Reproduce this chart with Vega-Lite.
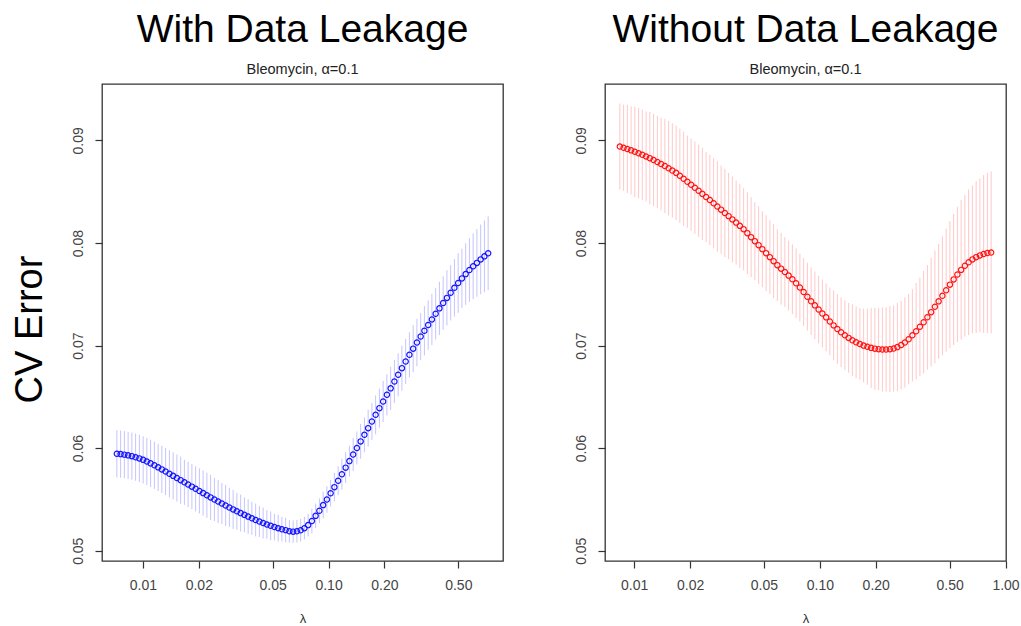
{
 "$schema": "https://vega.github.io/schema/vega-lite/v6.json",
 "background": "white",
 "padding": {"left": 10, "top": 9, "right": 0, "bottom": 0},
 "bounds": "flush",
 "spacing": 102,
 "config": {
  "font": "Liberation Sans",
  "view": {"stroke": "#333333", "strokeWidth": 1.3},
  "axis": {"grid": false, "domain": false, "tickColor": "#333333", "tickSize": 7, "tickWidth": 1.2, "labelFont": "Liberation Sans", "labelFontSize": 14, "labelColor": "#444444", "titleFont": "Liberation Sans", "titleFontWeight": "normal", "titleColor": "#000000"},
  "title": {"font": "Liberation Sans", "fontSize": 39, "fontWeight": "normal", "color": "#000000", "subtitleFont": "Liberation Sans", "subtitleFontSize": 14.5, "subtitleColor": "#222222", "anchor": "middle", "offset": 8, "subtitlePadding": 13}
 },
 "data": {"values": [
{"p":"L","lambda":0.00724,"cvm":0.05945,"se":0.0023},
{"p":"L","lambda":0.007585,"cvm":0.05942,"se":0.0023},
{"p":"L","lambda":0.007946,"cvm":0.05937,"se":0.0023},
{"p":"L","lambda":0.008324,"cvm":0.0593,"se":0.0023},
{"p":"L","lambda":0.008721,"cvm":0.05922,"se":0.0023},
{"p":"L","lambda":0.009136,"cvm":0.05912,"se":0.0023},
{"p":"L","lambda":0.009571,"cvm":0.059,"se":0.0023},
{"p":"L","lambda":0.01003,"cvm":0.05886,"se":0.0023},
{"p":"L","lambda":0.0105,"cvm":0.0587,"se":0.0023},
{"p":"L","lambda":0.011,"cvm":0.05852,"se":0.0023},
{"p":"L","lambda":0.01153,"cvm":0.05833,"se":0.0023},
{"p":"L","lambda":0.01208,"cvm":0.05813,"se":0.0023},
{"p":"L","lambda":0.01265,"cvm":0.05793,"se":0.0023},
{"p":"L","lambda":0.01325,"cvm":0.05772,"se":0.0023},
{"p":"L","lambda":0.01389,"cvm":0.05751,"se":0.0023},
{"p":"L","lambda":0.01455,"cvm":0.0573,"se":0.0023},
{"p":"L","lambda":0.01524,"cvm":0.05709,"se":0.0023},
{"p":"L","lambda":0.01597,"cvm":0.05688,"se":0.0023},
{"p":"L","lambda":0.01673,"cvm":0.05667,"se":0.0022},
{"p":"L","lambda":0.01752,"cvm":0.05646,"se":0.0022},
{"p":"L","lambda":0.01836,"cvm":0.05625,"se":0.0022},
{"p":"L","lambda":0.01923,"cvm":0.05604,"se":0.0022},
{"p":"L","lambda":0.02015,"cvm":0.05583,"se":0.0022},
{"p":"L","lambda":0.0211,"cvm":0.05562,"se":0.0022},
{"p":"L","lambda":0.02211,"cvm":0.05541,"se":0.0022},
{"p":"L","lambda":0.02316,"cvm":0.0552,"se":0.0022},
{"p":"L","lambda":0.02427,"cvm":0.055,"se":0.0021},
{"p":"L","lambda":0.02542,"cvm":0.0548,"se":0.0021},
{"p":"L","lambda":0.02663,"cvm":0.0546,"se":0.002},
{"p":"L","lambda":0.0279,"cvm":0.05441,"se":0.002},
{"p":"L","lambda":0.02923,"cvm":0.05422,"se":0.0019},
{"p":"L","lambda":0.03062,"cvm":0.05403,"se":0.0019},
{"p":"L","lambda":0.03208,"cvm":0.05385,"se":0.0018},
{"p":"L","lambda":0.03361,"cvm":0.05367,"se":0.0018},
{"p":"L","lambda":0.03521,"cvm":0.0535,"se":0.0017},
{"p":"L","lambda":0.03688,"cvm":0.05333,"se":0.0017},
{"p":"L","lambda":0.03864,"cvm":0.05316,"se":0.0016},
{"p":"L","lambda":0.04048,"cvm":0.053,"se":0.0016},
{"p":"L","lambda":0.0424,"cvm":0.05285,"se":0.0015},
{"p":"L","lambda":0.04442,"cvm":0.0527,"se":0.0015},
{"p":"L","lambda":0.04654,"cvm":0.05256,"se":0.0014},
{"p":"L","lambda":0.04876,"cvm":0.05243,"se":0.0014},
{"p":"L","lambda":0.05108,"cvm":0.05231,"se":0.0013},
{"p":"L","lambda":0.05351,"cvm":0.0522,"se":0.0013},
{"p":"L","lambda":0.05606,"cvm":0.0521,"se":0.0012},
{"p":"L","lambda":0.05873,"cvm":0.05201,"se":0.0012},
{"p":"L","lambda":0.06152,"cvm":0.0519,"se":0.0011},
{"p":"L","lambda":0.06445,"cvm":0.05186,"se":0.0011},
{"p":"L","lambda":0.06752,"cvm":0.0519,"se":0.0011},
{"p":"L","lambda":0.07074,"cvm":0.052,"se":0.0011},
{"p":"L","lambda":0.0741,"cvm":0.0522,"se":0.0011},
{"p":"L","lambda":0.07763,"cvm":0.0525,"se":0.0011},
{"p":"L","lambda":0.08133,"cvm":0.0529,"se":0.0012},
{"p":"L","lambda":0.0852,"cvm":0.0534,"se":0.0012},
{"p":"L","lambda":0.08926,"cvm":0.0539,"se":0.0012},
{"p":"L","lambda":0.09351,"cvm":0.05445,"se":0.0013},
{"p":"L","lambda":0.09796,"cvm":0.055,"se":0.0013},
{"p":"L","lambda":0.1026,"cvm":0.0556,"se":0.0013},
{"p":"L","lambda":0.1075,"cvm":0.0562,"se":0.0014},
{"p":"L","lambda":0.1126,"cvm":0.05683,"se":0.0014},
{"p":"L","lambda":0.118,"cvm":0.05746,"se":0.0015},
{"p":"L","lambda":0.1236,"cvm":0.0581,"se":0.0015},
{"p":"L","lambda":0.1295,"cvm":0.05874,"se":0.0015},
{"p":"L","lambda":0.1357,"cvm":0.05938,"se":0.0016},
{"p":"L","lambda":0.1421,"cvm":0.06002,"se":0.0016},
{"p":"L","lambda":0.1489,"cvm":0.06066,"se":0.0017},
{"p":"L","lambda":0.156,"cvm":0.0613,"se":0.0017},
{"p":"L","lambda":0.1634,"cvm":0.06195,"se":0.0018},
{"p":"L","lambda":0.1712,"cvm":0.0626,"se":0.0018},
{"p":"L","lambda":0.1793,"cvm":0.06325,"se":0.0019},
{"p":"L","lambda":0.1879,"cvm":0.0639,"se":0.0019},
{"p":"L","lambda":0.1968,"cvm":0.06455,"se":0.002},
{"p":"L","lambda":0.2062,"cvm":0.0652,"se":0.002},
{"p":"L","lambda":0.216,"cvm":0.06583,"se":0.0021},
{"p":"L","lambda":0.2263,"cvm":0.0665,"se":0.0021},
{"p":"L","lambda":0.2371,"cvm":0.06715,"se":0.0021},
{"p":"L","lambda":0.2484,"cvm":0.0678,"se":0.0022},
{"p":"L","lambda":0.2602,"cvm":0.06845,"se":0.0022},
{"p":"L","lambda":0.2726,"cvm":0.0691,"se":0.0022},
{"p":"L","lambda":0.2856,"cvm":0.0697,"se":0.0023},
{"p":"L","lambda":0.2992,"cvm":0.0703,"se":0.0023},
{"p":"L","lambda":0.3134,"cvm":0.07088,"se":0.0023},
{"p":"L","lambda":0.3283,"cvm":0.07145,"se":0.0024},
{"p":"L","lambda":0.344,"cvm":0.072,"se":0.0024},
{"p":"L","lambda":0.3603,"cvm":0.07255,"se":0.0025},
{"p":"L","lambda":0.3775,"cvm":0.0731,"se":0.0025},
{"p":"L","lambda":0.3955,"cvm":0.07363,"se":0.0026},
{"p":"L","lambda":0.4143,"cvm":0.07415,"se":0.0026},
{"p":"L","lambda":0.434,"cvm":0.07465,"se":0.0027},
{"p":"L","lambda":0.4547,"cvm":0.07515,"se":0.0027},
{"p":"L","lambda":0.4763,"cvm":0.07563,"se":0.0028},
{"p":"L","lambda":0.499,"cvm":0.0761,"se":0.0029},
{"p":"L","lambda":0.5228,"cvm":0.07655,"se":0.0029},
{"p":"L","lambda":0.5477,"cvm":0.07697,"se":0.003},
{"p":"L","lambda":0.5738,"cvm":0.07737,"se":0.0031},
{"p":"L","lambda":0.6011,"cvm":0.07773,"se":0.0032},
{"p":"L","lambda":0.6297,"cvm":0.07806,"se":0.0033},
{"p":"L","lambda":0.6597,"cvm":0.0784,"se":0.0034},
{"p":"L","lambda":0.6911,"cvm":0.0787,"se":0.0035},
{"p":"L","lambda":0.724,"cvm":0.079,"se":0.0036},
{"p":"R","lambda":0.00837,"cvm":0.0894,"se":0.0042},
{"p":"R","lambda":0.008769,"cvm":0.08928,"se":0.0042},
{"p":"R","lambda":0.009186,"cvm":0.08916,"se":0.0043},
{"p":"R","lambda":0.009624,"cvm":0.08903,"se":0.0043},
{"p":"R","lambda":0.01008,"cvm":0.08889,"se":0.0044},
{"p":"R","lambda":0.01056,"cvm":0.08875,"se":0.0044},
{"p":"R","lambda":0.01106,"cvm":0.0886,"se":0.0044},
{"p":"R","lambda":0.01159,"cvm":0.08844,"se":0.0044},
{"p":"R","lambda":0.01214,"cvm":0.08827,"se":0.0045},
{"p":"R","lambda":0.01272,"cvm":0.08809,"se":0.0045},
{"p":"R","lambda":0.01333,"cvm":0.0879,"se":0.0045},
{"p":"R","lambda":0.01396,"cvm":0.0877,"se":0.0045},
{"p":"R","lambda":0.01463,"cvm":0.0875,"se":0.0046},
{"p":"R","lambda":0.01532,"cvm":0.08729,"se":0.0046},
{"p":"R","lambda":0.01605,"cvm":0.08707,"se":0.0046},
{"p":"R","lambda":0.01682,"cvm":0.08684,"se":0.0046},
{"p":"R","lambda":0.01762,"cvm":0.08655,"se":0.0046},
{"p":"R","lambda":0.01846,"cvm":0.08626,"se":0.0046},
{"p":"R","lambda":0.01934,"cvm":0.08597,"se":0.0045},
{"p":"R","lambda":0.02026,"cvm":0.08568,"se":0.0045},
{"p":"R","lambda":0.02122,"cvm":0.08539,"se":0.0045},
{"p":"R","lambda":0.02223,"cvm":0.08509,"se":0.0045},
{"p":"R","lambda":0.02329,"cvm":0.08479,"se":0.0045},
{"p":"R","lambda":0.0244,"cvm":0.08449,"se":0.0044},
{"p":"R","lambda":0.02556,"cvm":0.08419,"se":0.0044},
{"p":"R","lambda":0.02678,"cvm":0.08388,"se":0.0044},
{"p":"R","lambda":0.02805,"cvm":0.08356,"se":0.0044},
{"p":"R","lambda":0.02939,"cvm":0.08325,"se":0.0043},
{"p":"R","lambda":0.03079,"cvm":0.08293,"se":0.0043},
{"p":"R","lambda":0.03225,"cvm":0.08262,"se":0.0042},
{"p":"R","lambda":0.03379,"cvm":0.0823,"se":0.0042},
{"p":"R","lambda":0.0354,"cvm":0.08199,"se":0.0041},
{"p":"R","lambda":0.03708,"cvm":0.08167,"se":0.0041},
{"p":"R","lambda":0.03885,"cvm":0.08135,"se":0.004},
{"p":"R","lambda":0.0407,"cvm":0.08096,"se":0.004},
{"p":"R","lambda":0.04264,"cvm":0.08057,"se":0.0039},
{"p":"R","lambda":0.04467,"cvm":0.08018,"se":0.0038},
{"p":"R","lambda":0.0468,"cvm":0.07979,"se":0.0038},
{"p":"R","lambda":0.04902,"cvm":0.0794,"se":0.0037},
{"p":"R","lambda":0.05136,"cvm":0.07901,"se":0.0037},
{"p":"R","lambda":0.0538,"cvm":0.07862,"se":0.0036},
{"p":"R","lambda":0.05636,"cvm":0.07823,"se":0.0036},
{"p":"R","lambda":0.05905,"cvm":0.07784,"se":0.0035},
{"p":"R","lambda":0.06186,"cvm":0.0775,"se":0.0035},
{"p":"R","lambda":0.06481,"cvm":0.07717,"se":0.0034},
{"p":"R","lambda":0.06789,"cvm":0.07682,"se":0.0034},
{"p":"R","lambda":0.07112,"cvm":0.07646,"se":0.0034},
{"p":"R","lambda":0.07451,"cvm":0.07607,"se":0.0034},
{"p":"R","lambda":0.07806,"cvm":0.07566,"se":0.0033},
{"p":"R","lambda":0.08178,"cvm":0.07522,"se":0.0033},
{"p":"R","lambda":0.08567,"cvm":0.07476,"se":0.0033},
{"p":"R","lambda":0.08975,"cvm":0.07432,"se":0.0033},
{"p":"R","lambda":0.09402,"cvm":0.07392,"se":0.0033},
{"p":"R","lambda":0.0985,"cvm":0.07352,"se":0.0033},
{"p":"R","lambda":0.1032,"cvm":0.07313,"se":0.0033},
{"p":"R","lambda":0.1081,"cvm":0.07275,"se":0.0033},
{"p":"R","lambda":0.1132,"cvm":0.07235,"se":0.0033},
{"p":"R","lambda":0.1186,"cvm":0.07197,"se":0.0034},
{"p":"R","lambda":0.1243,"cvm":0.07162,"se":0.0034},
{"p":"R","lambda":0.1302,"cvm":0.0713,"se":0.0034},
{"p":"R","lambda":0.1364,"cvm":0.07101,"se":0.0034},
{"p":"R","lambda":0.1429,"cvm":0.07075,"se":0.0034},
{"p":"R","lambda":0.1497,"cvm":0.07052,"se":0.0035},
{"p":"R","lambda":0.1568,"cvm":0.07032,"se":0.0035},
{"p":"R","lambda":0.1643,"cvm":0.07015,"se":0.0035},
{"p":"R","lambda":0.1721,"cvm":0.07,"se":0.0036},
{"p":"R","lambda":0.1803,"cvm":0.06988,"se":0.0037},
{"p":"R","lambda":0.1889,"cvm":0.06978,"se":0.0039},
{"p":"R","lambda":0.1979,"cvm":0.0697,"se":0.004},
{"p":"R","lambda":0.2073,"cvm":0.06965,"se":0.004},
{"p":"R","lambda":0.2172,"cvm":0.06962,"se":0.0041},
{"p":"R","lambda":0.2275,"cvm":0.06962,"se":0.0041},
{"p":"R","lambda":0.2384,"cvm":0.06965,"se":0.0042},
{"p":"R","lambda":0.2497,"cvm":0.06971,"se":0.0042},
{"p":"R","lambda":0.2616,"cvm":0.06985,"se":0.0043},
{"p":"R","lambda":0.2741,"cvm":0.07005,"se":0.0043},
{"p":"R","lambda":0.2871,"cvm":0.0703,"se":0.0044},
{"p":"R","lambda":0.3008,"cvm":0.07062,"se":0.0044},
{"p":"R","lambda":0.3151,"cvm":0.071,"se":0.0045},
{"p":"R","lambda":0.3301,"cvm":0.0714,"se":0.0047},
{"p":"R","lambda":0.3459,"cvm":0.07183,"se":0.0048},
{"p":"R","lambda":0.3623,"cvm":0.07228,"se":0.005},
{"p":"R","lambda":0.3796,"cvm":0.07276,"se":0.0051},
{"p":"R","lambda":0.3976,"cvm":0.07326,"se":0.0053},
{"p":"R","lambda":0.4166,"cvm":0.07378,"se":0.0055},
{"p":"R","lambda":0.4364,"cvm":0.07431,"se":0.0056},
{"p":"R","lambda":0.4572,"cvm":0.07485,"se":0.0058},
{"p":"R","lambda":0.479,"cvm":0.0754,"se":0.006},
{"p":"R","lambda":0.5018,"cvm":0.07594,"se":0.0062},
{"p":"R","lambda":0.5257,"cvm":0.07645,"se":0.0064},
{"p":"R","lambda":0.5507,"cvm":0.07693,"se":0.0066},
{"p":"R","lambda":0.5769,"cvm":0.07738,"se":0.0068},
{"p":"R","lambda":0.6044,"cvm":0.07778,"se":0.0069},
{"p":"R","lambda":0.6332,"cvm":0.07812,"se":0.0071},
{"p":"R","lambda":0.6633,"cvm":0.0784,"se":0.0072},
{"p":"R","lambda":0.6949,"cvm":0.07862,"se":0.0074},
{"p":"R","lambda":0.728,"cvm":0.07879,"se":0.0075},
{"p":"R","lambda":0.7626,"cvm":0.07893,"se":0.0077},
{"p":"R","lambda":0.799,"cvm":0.07903,"se":0.0078},
{"p":"R","lambda":0.837,"cvm":0.07908,"se":0.0079}
 ]},
 "hconcat": [
  {
   "width": 401, "height": 477,
   "title": {"text": "With Data Leakage", "subtitle": "Bleomycin, α=0.1"},
   "transform": [{"filter": "datum.p === 'L'"}],
   "encoding": {
    "x": {"field": "lambda", "type": "quantitative", "scale": {"type": "log", "domain": [0.006021, 0.8702], "nice": false},
          "axis": {"values": [0.01, 0.02, 0.05, 0.1, 0.2, 0.5], "format": ".2f", "title": "λ", "titleFontSize": 13, "titleColor": "#333333", "labelPadding": 10, "titlePadding": 20, "labelFlush": false}},
    "y": {"field": "cvm", "type": "quantitative", "scale": {"domain": [0.049, 0.0955], "nice": false, "zero": false},
          "axis": {"values": [0.05, 0.06, 0.07, 0.08, 0.09], "format": ".2f", "labelAngle": -90, "labelAlign": "center", "labelBaseline": "bottom", "labelPadding": 10, "title": "CV Error", "titleFontSize": 38, "titlePadding": 22, "titleY": 245, "labelFlush": false}}
   },
   "layer": [
    {"mark": {"type": "errorbar", "color": "#c4c4ff", "thickness": 1}, "encoding": {"yError": {"field": "se"}}},
    {"mark": {"type": "point", "shape": "circle", "filled": false, "color": "#1414ff", "size": 28, "strokeWidth": 1.2, "opacity": 1}}
   ]
  },
  {
   "width": 401, "height": 477,
   "title": {"text": "Without Data Leakage", "subtitle": "Bleomycin, α=0.1"},
   "transform": [{"filter": "datum.p === 'R'"}],
   "encoding": {
    "x": {"field": "lambda", "type": "quantitative", "scale": {"type": "log", "domain": [0.006963, 1.0062], "nice": false},
          "axis": {"values": [0.01, 0.02, 0.05, 0.1, 0.2, 0.5, 1], "format": ".2f", "title": "λ", "titleFontSize": 13, "titleColor": "#333333", "labelPadding": 10, "titlePadding": 20, "labelFlush": false}},
    "y": {"field": "cvm", "type": "quantitative", "scale": {"domain": [0.049, 0.0955], "nice": false, "zero": false},
          "axis": {"values": [0.05, 0.06, 0.07, 0.08, 0.09], "format": ".2f", "labelAngle": -90, "labelAlign": "center", "labelBaseline": "bottom", "labelPadding": 10, "title": null, "labelFlush": false}}
   },
   "layer": [
    {"mark": {"type": "errorbar", "color": "#ffc8c8", "thickness": 1}, "encoding": {"yError": {"field": "se"}}},
    {"mark": {"type": "point", "shape": "circle", "filled": false, "color": "#ff1414", "size": 28, "strokeWidth": 1.2, "opacity": 1}}
   ]
  }
 ]
}
